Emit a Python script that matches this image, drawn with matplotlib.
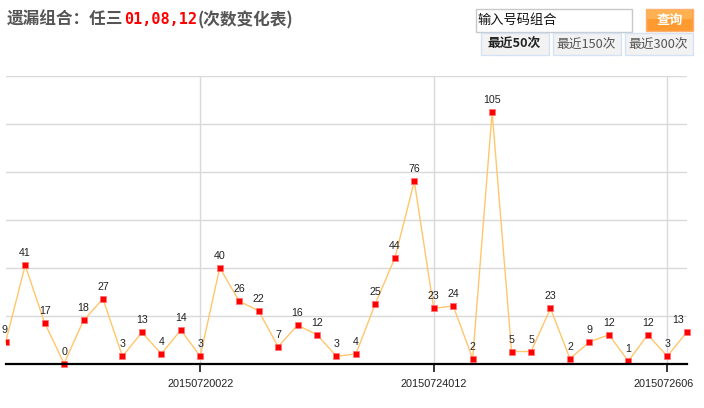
import matplotlib
matplotlib.use("Agg")
import matplotlib.pyplot as plt
from matplotlib.patches import Rectangle

# ---------------- data ----------------
values = [9, 41, 17, 0, 18, 27, 3, 13, 4, 14, 3, 40, 26, 22, 7, 16, 12, 3, 4,
          25, 44, 76, 23, 24, 2, 105, 5, 5, 23, 2, 9, 12, 1, 12, 3, 13]
tick_idx = [10, 22, 34]
tick_labels = ['20150720022', '20150724012', '2015072606']
title_parts = ['遗漏组合：任三', '01,08,12', '(次数变化表)']
input_text = '输入号码组合'
button_text = '查询'
tabs = ['最近50次', '最近150次', '最近300次']

W, H = 704, 408
fig = plt.figure(figsize=(W / 100, H / 100), dpi=100)
fig.patch.set_facecolor('white')

def px(x0, y0, x1, y1):
    """pixel box (top-left origin) -> figure fraction rect"""
    return [x0 / W, 1 - y1 / H, (x1 - x0) / W, (y1 - y0) / H]

CJK = ['Noto Sans CJK SC', 'DejaVu Sans']
LAT = ['Liberation Sans', 'DejaVu Sans']

# ---------------- chart ----------------
ax = fig.add_axes(px(5.7, 76, 686.7, 363.5))
ax.set_xlim(0, len(values) - 1)
ax.set_ylim(0, 120)
for s in ['top', 'right', 'left']:
    ax.spines[s].set_visible(False)
ax.spines['bottom'].set_color('black')
ax.spines['bottom'].set_linewidth(1.6)
ax.spines['bottom'].set_zorder(5)
ax.set_yticks([20, 40, 60, 80, 100, 120])
ax.yaxis.grid(True, color='#d9d9d9', lw=1)
ax.tick_params(axis='y', length=0, labelleft=False)
ax.set_xticks(tick_idx)
ax.set_xticklabels([])
ax.xaxis.grid(True, color='#d9d9d9', lw=1)
ax.tick_params(axis='x', length=6, width=1.1, color='black', direction='out', pad=2)
ax.set_axisbelow(True)

xs = list(range(len(values)))
ax.plot(xs, values, color='#FFC66B', lw=1, zorder=3, clip_on=False)
ax.plot(xs[:1], values[:1], ls='none', marker='s', ms=5, mfc='#ff0000',
        mec='#ff7070', mew=0.5, zorder=4, clip_on=True)
ax.plot(xs[1:], values[1:], ls='none', marker='s', ms=5, mfc='#ff0000',
        mec='#ff7070', mew=0.5, zorder=4, clip_on=False)

for i, v in enumerate(values):
    dx = 0
    if i == 0:
        dx = -0.8
    elif i == len(values) - 1:
        dx = -6
    ax.annotate(str(v), (i, v), xytext=(dx, 8.6), textcoords='offset points',
                ha='center', va='center', fontsize=7.7, color='#222222',
                family=LAT, zorder=6, annotation_clip=False)

for i, lab in zip(tick_idx, tick_labels):
    off = 0
    if len(lab) < 11:
        off = -2.5
    ax.annotate(lab, (i, 0), xytext=(off, -14.5), textcoords='offset points',
                ha='center', va='center', fontsize=7.8, color='#222222',
                family=LAT, annotation_clip=False)

# ---------------- title ----------------
fig.canvas.draw()
renderer = fig.canvas.get_renderer()
x = 7
styles = [
    dict(color='#555555', family=CJK, fontsize=12, fontweight='bold'),
    dict(color='#ff0000', family=['DejaVu Sans Mono'], fontsize=11, fontweight='bold'),
    dict(color='#555555', family=CJK, fontsize=12, fontweight='bold'),
]
for part, st in zip(title_parts, styles):
    t = fig.text(x / W, 1 - 20 / H, part, ha='left', va='center', **st)
    bb = t.get_window_extent(renderer=renderer)
    x = bb.x1 + 0.5

# ---------------- controls ----------------
ov = fig.add_axes([0, 0, 1, 1], zorder=10)
ov.set_xlim(0, W)
ov.set_ylim(H, 0)
ov.axis('off')
ov.patch.set_alpha(0)

ov.add_patch(Rectangle((475.5, 8.5), 156.5, 23, fc='white', ec='#c8c8c8', lw=1))
ov.text(477.5, 20.5, input_text, ha='left', va='center', fontsize=9.5,
        color='#111111', family=CJK)

ov.add_patch(Rectangle((646, 9), 47, 22, fc='#ff9a30', ec='#ffb070', lw=1))
ov.add_patch(Rectangle((647, 10), 45, 9, fc='#ffb050', ec='none'))
ov.text(669.5, 19.5, button_text, ha='center', va='center', fontsize=9.5,
        color='white', family=CJK, fontweight='bold')

tab_boxes = [(480.5, 548.5), (552.5, 620.5), (624.5, 692.5)]
for k, (lab, (a, b)) in enumerate(zip(tabs, tab_boxes)):
    ov.add_patch(Rectangle((a, 32.5), b - a, 22.5, fc='#f2f2f2', ec='#d4e2f6', lw=1))
    ov.text((a + b) / 2, 44, lab, ha='center', va='center', fontsize=9.2,
            color='#222222' if k == 0 else '#555555', family=CJK,
            fontweight='bold' if k == 0 else 'normal')

fig.savefig('out.png', dpi=100)
